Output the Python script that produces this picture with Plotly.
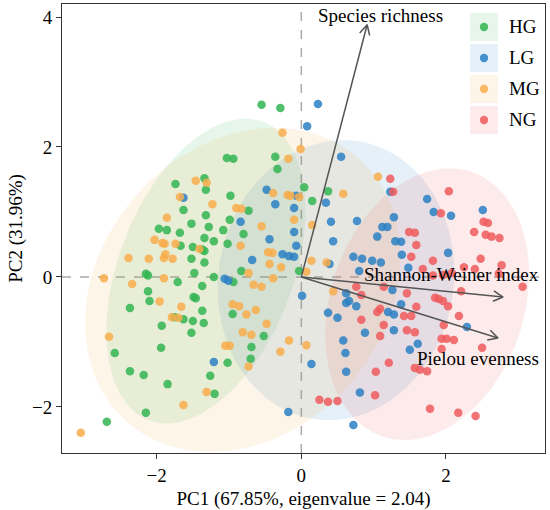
import numpy as np
import plotly.graph_objects as go

# --- scores (PC1, PC2) ---
hg_pc1 = [-1.03, -0.94, -1.34, -1.74, -1.32, -0.98, -1.63, -1.32, -1.52, -1.97, -1.86, -1.28, -1.08, -0.99,
          -1.68, -1.34, -1.21, -1.67, -1.50, -1.37, -1.34, -1.02, -1.52, -1.34, -2.15, -2.12, -1.71, -1.48,
          -1.21, -1.37, -2.12, -2.10, -1.49, -1.46, -2.37, -1.37, -1.75, -1.63, -1.50, -1.35, -1.93, -1.52,
          -1.94, -2.58, -1.02, -2.37, -2.18, -1.26, -1.85, -1.20, -2.15, -2.69, -0.55, -0.29, -0.36, -0.33,
          0.04, 0.37, -0.73, 0.15, -0.80, -0.83, -0.94, -0.03, -0.95, -0.52, -0.69, -0.70]
hg_pc2 = [1.83, 1.82, 1.52, 1.43, 1.34, 1.25, 1.03, 0.95, 0.82, 0.74, 0.72, 0.77, 0.72, 0.88,
          0.68, 0.60, 0.55, 0.48, 0.46, 0.42, 0.40, 0.51, 0.28, 0.22, 0.05, 0.02, -0.08, 0.06,
          0.00, -0.14, -0.22, -0.37, -0.31, -0.33, -0.48, -0.52, -0.62, -0.65, -0.68, -0.71, -0.75, -0.86,
          -1.09, -1.17, -1.32, -1.45, -1.51, -1.52, -1.65, -1.80, -2.09, -2.23, 2.65, 2.60, 1.85, 1.66,
          1.38, 1.32, 1.02, 1.17, 0.66, 0.09, -0.08, 0.09, -0.57, -0.91, -1.08, -1.26]

lg_pc1 = [-1.63, -1.06, -1.01, -1.21, 0.23, 0.08, 0.55, -0.48, 1.23, -0.07, -0.36, 0.34, -0.10, -0.84,
          0.41, 0.77, 1.12, 1.19, -0.10, -0.44, 0.44, 1.05, -0.07, -0.26, -0.17, -0.10, -0.68, 0.72,
          0.84, 0.98, 1.10, 0.39, 0.80, 0.01, 0.62, 0.62, 0.66, 0.76, 0.37, 0.50, 1.20, 1.28,
          0.88, 0.58, 0.61, 0.14, 0.62, 0.81, -0.18, 0.72, 1.74, 1.83, 2.07, 2.51, 1.28, 1.30,
          1.38, 2.03, 1.39, 1.48, 1.26, 1.38, 1.28, 2.29, 1.61, 1.50]
lg_pc2 = [1.22, -0.03, -0.06, -1.31, 2.66, 2.32, 1.85, 1.34, 1.31, 1.25, 1.12, 1.14, 1.06, 0.85,
          0.85, 0.86, 0.77, 0.77, 0.69, 0.58, 0.55, 0.62, 0.48, 0.35, 0.32, 0.31, 0.26, 0.31,
          0.28, 0.25, 0.22, 0.20, 0.09, -0.29, -0.25, -0.40, -0.37, -0.45, -0.55, -0.63, -0.54, -0.58,
          -0.86, -0.98, -1.17, -1.34, -1.46, -1.78, -2.08, -2.28, 1.20, 1.00, 0.94, 1.03, 0.92, 0.55,
          0.54, 0.37, 0.34, 0.14, -0.20, -0.42, -0.82, -0.77, -1.03, -1.12]

mg_pc1 = [-1.46, -1.31, -1.68, -1.23, -1.86, -2.03, -1.92, -1.89, -1.74, -1.88, -1.90, -1.78, -2.39, -2.11,
          -2.73, -2.34, -1.90, -1.96, -1.66, -1.79, -1.70, -2.66, -1.05, -0.99, -1.31, -1.63, -3.05, -0.26,
          -0.01, -0.18, 1.06, -0.39, 0.58, -0.19, -0.15, -0.03, -0.90, -0.83, -0.10, -0.55, 0.15, -0.84,
          -0.46, -0.40, -1.41, -0.44, -0.28, 0.14, 0.35, -0.73, -0.39, 0.07, -0.66, -0.55, 0.44, -0.95,
          -0.86, -0.76, -0.63, -0.48, -0.81, -0.69, -0.17, 0.07, -0.29, -0.73]
mg_pc2 = [1.48, 1.45, 1.23, 1.12, 0.91, 0.57, 0.52, 0.51, 0.51, 0.35, 0.29, 0.28, 0.29, 0.28,
          -0.02, -0.11, -0.02, -0.38, -0.46, -0.62, -0.63, -0.92, -1.06, -1.06, -1.77, -1.97, -2.40, 2.22,
          1.97, 1.82, 1.54, 1.29, 1.28, 1.26, 1.25, 1.23, 1.06, 1.05, 0.88, 0.78, 0.80, 0.48,
          0.38, 0.37, 0.43, 0.20, 0.15, 0.25, 0.22, 0.06, -0.02, 0.08, -0.12, -0.15, -0.22, -0.42,
          -0.45, -0.58, -0.51, -0.72, -0.85, -0.89, -0.98, -1.05, -1.15, -1.38]

ng_pc1 = [1.23, 1.27, 2.04, 1.93, 2.52, 2.58, 1.49, 1.57, 2.39, 2.55, 2.63, 2.74, 1.59, 1.52,
          2.48, 1.82, 2.77, 1.68, 2.25, 2.40, 2.73, 2.08, 1.82, 1.96, 3.06, 1.14, 1.46, 2.21,
          1.85, 1.90, 1.96, 2.03, 1.59, 1.42, 1.52, 2.18, 0.76, 0.83, 0.83, 1.05, 1.09, 1.09,
          1.14, 1.03, 1.21, 1.02, 0.25, 0.37, 0.50, 1.97, 1.46, 1.57, 1.94, 2.01, 2.11, 1.94,
          2.50, 1.57, 1.64, 1.74, 1.78, 2.17, 2.41]
ng_pc2 = [1.51, 1.31, 1.32, 0.98, 0.85, 0.83, 0.69, 0.68, 0.69, 0.65, 0.62, 0.60, 0.49, 0.31,
          0.28, 0.25, 0.18, 0.12, 0.15, 0.12, 0.05, 0.06, 0.02, 0.03, -0.15, -0.15, -0.25, -0.22,
          -0.32, -0.34, -0.37, -0.45, -0.46, -0.60, -0.60, -0.60, -0.15, -0.28, -0.66, -0.54, -0.49, -0.91,
          -0.74, -1.46, -1.32, -1.82, -1.89, -1.92, -1.91, -0.74, -0.82, -0.85, -0.95, -0.95, -0.97, -1.11,
          -1.09, -1.40, -1.43, -1.45, -2.03, -2.09, -2.14]

groups = ["HG", "LG", "MG", "NG"]
colors = ["#33b552", "#2a80c4", "#f8ad4b", "#ee5b5d"]
fills = ["rgba(51,181,82,0.12)", "rgba(42,128,196,0.12)", "rgba(248,173,75,0.12)", "rgba(238,91,93,0.12)"]

# confidence ellipses per group: centre, semi-axes, angle (deg)
ell_cx = [-1.32, 0.48, -0.81, 1.74]
ell_cy = [0.09, -0.05, -0.20, -0.42]
ell_a = [2.43, 2.16, 2.61, 2.13]
ell_b = [1.22, 1.63, 2.04, 1.35]
ell_ang = [72.3, 84.0, 61.7, 75.7]

# loadings (arrow tips)
var_names = ["Species richness", "Shannon-Weiner index", "Pielou evenness"]
load_pc1 = [0.91, 2.79, 2.72]
load_pc2 = [3.88, -0.31, -0.94]
lab_x = [1.09, 2.08, 2.44]
lab_y = [4.03, 0.03, -1.25]

xr = [-3.31, 3.37]
yr = [-2.71, 4.20]
W, H = 550, 510
ml, mr, mt, mb = 62, 5, 4, 57
pw, ph = W - ml - mr, H - mt - mb

font = "Liberation Serif"
fig = go.Figure()

t = np.linspace(0, 2 * np.pi, 200)
for i, g in enumerate(groups):
    th = np.radians(ell_ang[i])
    ex = ell_cx[i] + ell_a[i] * np.cos(th) * np.cos(t) - ell_b[i] * np.sin(th) * np.sin(t)
    ey = ell_cy[i] + ell_a[i] * np.sin(th) * np.cos(t) + ell_b[i] * np.cos(th) * np.sin(t)
    fig.add_trace(go.Scatter(x=ex, y=ey, mode="lines", fill="toself", fillcolor=fills[i],
                             line=dict(width=0), hoverinfo="skip", showlegend=False))

pts = [(hg_pc1, hg_pc2), (lg_pc1, lg_pc2), (mg_pc1, mg_pc2), (ng_pc1, ng_pc2)]
for i, g in enumerate(groups):
    fig.add_trace(go.Scatter(x=pts[i][0], y=pts[i][1], mode="markers", name=g,
                             marker=dict(size=8.5, color=colors[i], opacity=0.85, line=dict(width=0)),
                             showlegend=False))

# arrows with open heads (head size in pixels)
sx, sy = pw / (xr[1] - xr[0]), ph / (yr[1] - yr[0])
for x1, y1 in zip(load_pc1, load_pc2):
    fig.add_trace(go.Scatter(x=[0, x1], y=[0, y1], mode="lines", line=dict(color="#555555", width=1.5),
                             hoverinfo="skip", showlegend=False))
    d = np.array([x1 * sx, y1 * sy])
    d = d / np.linalg.norm(d)
    hx, hy = [], []
    for s in (1, -1):
        a = np.radians(28) * s
        r = np.array([d[0] * np.cos(a) - d[1] * np.sin(a), d[0] * np.sin(a) + d[1] * np.cos(a)])
        hx.append(x1 - 11 * r[0] / sx)
        hy.append(y1 - 11 * r[1] / sy)
    fig.add_trace(go.Scatter(x=[hx[0], x1, hx[1]], y=[hy[0], y1, hy[1]], mode="lines",
                             line=dict(color="#555555", width=1.5), hoverinfo="skip", showlegend=False))

for name, lx, ly in zip(var_names, lab_x, lab_y):
    fig.add_annotation(x=lx, y=ly, text=name, showarrow=False, font=dict(family=font, size=19, color="black"))

# zero lines
fig.add_hline(y=0, line=dict(color="#aaaaaa", width=1.5, dash="dash"), layer="below")
fig.add_vline(x=0, line=dict(color="#aaaaaa", width=1.5, dash="dash"), layer="below")

# hand-made legend (shaded boxes like the reference)
def px2paper(px, py):
    return (px - ml) / pw, (H - mb - py) / ph

for i, g in enumerate(groups):
    top = 13 + i * 31
    x0, y0 = px2paper(470, top)
    x1p, y1p = px2paper(498, top + 28)
    fig.add_shape(type="rect", xref="paper", yref="paper", x0=x0, x1=x1p, y0=y1p, y1=y0,
                  fillcolor=fills[i], line=dict(width=0))
    cx, cy = px2paper(484, top + 14)
    fig.add_shape(type="circle", xref="paper", yref="paper", xsizemode="pixel", ysizemode="pixel",
                  xanchor=cx, yanchor=cy, x0=-4.2, x1=4.2, y0=-4.2, y1=4.2,
                  fillcolor=colors[i], opacity=0.85, line=dict(width=0))
    tx, ty = px2paper(507, top + 14)
    fig.add_annotation(xref="paper", yref="paper", x=tx, y=ty, text=g, showarrow=False,
                       xanchor="left", yanchor="middle", font=dict(family=font, size=19, color="black"))

axis_common = dict(showgrid=False, zeroline=False, showline=True, mirror=True, linecolor="#333333",
                   linewidth=1, ticks="outside", ticklen=5, tickcolor="#333333",
                   tickfont=dict(family=font, size=19, color="black"))
fig.update_xaxes(range=xr, tickvals=[-2, 0, 2], **axis_common,
                 title=dict(text="PC1 (67.85%, eigenvalue = 2.04)", font=dict(family=font, size=19, color="black"),
                            standoff=6))
fig.update_yaxes(range=yr, tickvals=[-2, 0, 2, 4], **axis_common,
                 title=dict(text="PC2 (31.96%)", font=dict(family=font, size=19, color="black"), standoff=4))

fig.update_layout(width=W, height=H, margin=dict(l=ml, r=mr, t=mt, b=mb, autoexpand=False),
                  plot_bgcolor="white", paper_bgcolor="white", showlegend=False)

fig.write_html("out.html", config={"displayModeBar": False},
               post_script="document.body.style.margin='0px';")
